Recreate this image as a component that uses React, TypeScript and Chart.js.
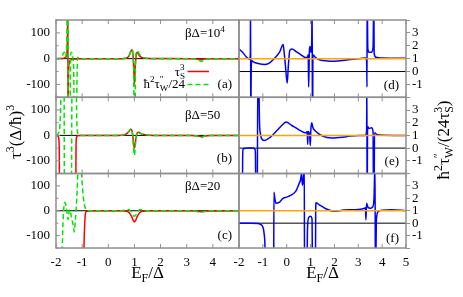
import React, { useEffect, useRef } from 'react';
import { Chart, registerables } from 'chart.js';

Chart.register(...registerables);

const W = 463;
const H = 297;
const SERIF = '"Liberation Serif", "Times New Roman", Times, serif';
const GRAY = '#8f8f8f';
const RED = '#ff0000';
const GREEN = '#00e600';
const BLUE = '#0000ff';
const ORANGE = '#ffa500';

// ---------- data ----------
const X_TICKS = [-2, -1, 0, 1, 2, 3, 4, 5];
const LEFT_Y_LABELS = [-100, 0, 100];
const RIGHT_Y_LABELS = [-1, 0, 1, 2, 3];
const LINE_X = [-2, 5];
const ZERO_Y = [0, 0];
const ONE_Y = [1, 1];

// panel (a) betaDelta = 1e4
const xA_S = [-2, -1.75, -1.65, -1.6, -1.575, -1.56, -1.548, -1.54, -1.525, -1.5, -1.45, -1.35, -1.1, 0.5, 0.7, 0.8, 0.86, 0.9, 0.94, 0.97, 1.0, 1.03, 1.07, 1.11, 1.18, 1.3, 1.6, 3.2, 3.45, 3.55, 3.65, 3.9, 5];
const yA_S = [0, 1, 4, 10, 35, 120, 400, -400, -80, -20, -6, -2, 0, 0, 3, 12, 28, 35, 20, -30, -100, -30, 15, 25, 12, 4, 1, 0, -2, -3, -1, 0, 0];
const xA_W = [-2, -1.8, -1.72, -1.68, -1.64, -1.6, -1.575, -1.56, -1.545, -1.53, -1.47, -1.44, -1.4, -1.36, -1.32, -1.3, -1.24, -1.2, -1.17, -1.1, 0.5, 0.7, 0.8, 0.86, 0.9, 0.94, 0.97, 1.0, 1.02, 1.04, 1.08, 1.12, 1.2, 1.35, 1.7, 3.2, 3.4, 3.5, 3.58, 3.7, 3.9, 5];
const yA_W = [0, 2, 20, 25, 8, 40, 150, 400, 400, -400, -400, 20, 25, 5, -60, -400, -400, -100, 5, 0, 0, 3, 12, 28, 35, 20, -60, -400, -400, -20, 25, 30, 15, 4, 0, 0, -3, -8, -10, -4, 0, 0];

// panel (b) betaDelta = 50
const xB_S = [-2, -1.92, -1.89, -1.875, -1.86, -1.25, -1.235, -1.22, -1.18, -1.1, 0.4, 0.65, 0.78, 0.86, 0.92, 0.96, 1.0, 1.04, 1.09, 1.15, 1.25, 1.4, 1.7, 3.2, 3.45, 3.55, 3.65, 3.9, 5];
const yB_S = [0, -3, -15, -60, -400, -400, -60, -10, -2, 0, 0, 4, 14, 24, 12, -25, -50, -25, 6, 12, 7, 3, 0, 0, -3, -5, -3, 0, 0];
const xB_W = [-2, -1.9, -1.84, -1.8, -1.77, -1.7, -1.67, -1.64, -1.42, -1.39, -1.36, -1.25, -1.21, -1.18, -1.14, -1.05, 0.4, 0.65, 0.78, 0.86, 0.92, 0.96, 1.0, 1.04, 1.09, 1.15, 1.25, 1.4, 1.7, 3.2, 3.45, 3.55, 3.65, 3.9, 5];
const yB_W = [0, 10, 60, 200, 400, 400, -400, -400, -400, 200, 400, 400, 80, 15, 3, 0, 0, 4, 14, 25, 10, -40, -78, -35, 5, 14, 8, 3, 0, 0, -4, -9, -4, 0, 0];

// panel (c) betaDelta = 20
const xC_S = [-2, -0.96, -0.93, -0.9, -0.87, -0.83, -0.7, 0.5, 0.7, 0.8, 0.9, 0.96, 1.0, 1.04, 1.1, 1.2, 1.3, 1.5, 3.2, 3.45, 3.55, 3.7, 5];
const yC_S = [-400, -400, -150, -50, -10, -2, 0, 0, -2, -8, -25, -40, -45, -40, -25, -8, -2, 0, 0, -3, -4, -1, 0];
const xC_W = [-2, -1.8, -1.76, -1.72, -1.66, -1.6, -1.54, -1.49, -1.44, -1.39, -1.34, -1.3, -1.26, -1.2, -1.15, -1.1, -1.05, -1.0, -0.95, -0.9, -0.85, -0.78, -0.6, 0.5, 0.65, 0.75, 0.85, 0.93, 1.0, 1.07, 1.15, 1.22, 1.35, 1.6, 3.2, 3.4, 3.55, 3.7, 3.85, 5];
const yC_W = [-400, -400, -150, -20, 34, 10, -35, 5, -10, -35, -60, -85, -40, 60, 180, 220, 180, 110, 50, 18, 5, 0, 0, 0, 2, 5, 0, -15, -22, -15, 0, 5, 2, 0, 0, -2, -5, -3, 0, 0];

// panel (d) ratio, betaDelta = 1e4
const xD = [-2, -1.85, -1.7, -1.6, -1.55, -1.525, -1.515, -1.505, -1.495, -1.47, -1.4, -1.2, -0.9, -0.7, -0.5, -0.3, -0.15, -0.12, -0.06, 0.02, 0.07, 0.13, 0.22, 0.4, 0.6, 0.8, 0.87, 0.9, 0.92, 0.95, 0.98, 1.02, 1.05, 1.065, 1.08, 1.1, 1.2, 1.4, 1.7, 2.0, 2.5, 3.0, 3.3, 3.35, 3.365, 3.372, 3.4, 3.45, 3.55, 3.62, 3.65, 3.665, 3.75, 4.0, 5];
const yD = [1.75, 1.5, 1.15, 1.0, 0.95, 1.4, 6, -6, -1.5, 0.85, 0.75, 0.62, 0.55, 0.7, 1.05, 1.5, 2.1, 1.7, 0.6, -0.9, 0.5, 1.65, 1.75, 1.55, 1.3, 1.08, 1.1, 1.3, -1.2, 1.6, 1.95, 1.5, 2.5, 6, -6, 1.3, 1.1, 0.9, 0.82, 0.8, 0.9, 1.0, 1.05, 0.8, -1.2, 6, 1.8, 1.5, 1.5, 1.9, 6, 1.4, 1.1, 1.05, 1.03];

// panel (e) ratio, betaDelta = 50
const xE = [-2, -1.87, -1.845, -1.82, -1.6, -1.4, -1.33, -1.31, -1.29, -1.24, -1.21, -1.18, -1.14, -1.1, -1.05, -0.95, -0.7, -0.4, -0.2, -0.02, 0.2, 0.5, 0.7, 0.8, 0.86, 0.88, 0.9, 0.96, 0.99, 1.01, 1.05, 1.1, 1.2, 1.5, 1.9, 2.5, 3.0, 3.3, 3.35, 3.36, 3.37, 3.39, 3.45, 3.55, 3.62, 3.64, 3.66, 3.68, 3.8, 4.5, 5];
const yE = [-6, -6, -0.4, -0.05, 0, 0, -0.1, -0.5, -6, -6, 6, 6, 2, 1.1, 0.75, 0.6, 0.85, 1.4, 1.8, 2.05, 1.8, 1.45, 1.25, 1.2, 1.3, 0.3, 1.3, 1.0, 0.2, 1.4, 2.0, 1.6, 1.35, 0.95, 0.8, 0.9, 1.0, 1.0, 1.4, 6, -6, 1.7, 1.55, 1.6, 1.3, -6, -6, 1.2, 1.05, 1.0, 1.0];

// panel (f) ratio, betaDelta = 20
const xF = [-2, -1.5, -1.2, -1.1, -1.0, -0.95, -0.91, -0.88, -0.55, -0.535, -0.52, -0.45, -0.3, -0.17, 0.0, 0.18, 0.39, 0.5, 0.58, 0.62, 0.66, 0.7, 0.735, 0.75, 0.84, 0.87, 0.92, 1.0, 1.06, 1.09, 1.2, 1.215, 1.23, 1.35, 1.6, 2.0, 2.4, 2.8, 3.1, 3.26, 3.3, 3.32, 3.35, 3.4, 3.5, 3.6, 3.66, 3.7, 3.72, 3.76, 3.84, 4.0, 4.4, 5];
const yF = [0, 0, -0.02, -0.1, -0.3, -0.8, -2, -6, -6, 2.5, 2.3, 1.6, 1.7, 1.97, 2.1, 2.25, 2.6, 3.1, 3.5, 3.95, 3.05, 3.6, 5, -6, -6, -0.5, 0.45, 0.55, 0.35, -6, -6, 1.0, 1.65, 1.5, 1.2, 0.95, 1.06, 1.08, 1.12, 1.2, 1.25, 0.27, 1.6, 1.3, 1.2, 1.3, 2.0, 5, -6, 0.3, 0.95, 1.05, 1.08, 1.0];

// ---------- layout ----------
const COLS: [number, number][] = [[56, 239], [239, 406]];
const ROWS: [number, number][] = [[20, 97.3], [97.3, 173.5], [173.5, 248]];

type Seg = { t: string; sup?: string; sub?: string };

function drawRich(ctx: CanvasRenderingContext2D, segs: Seg[], x: number, y: number, size: number, align: 'left' | 'right' | 'center') {
  const small = size * 0.7;
  let total = 0;
  const parts = segs.map((s) => {
    ctx.font = `${size}px ${SERIF}`;
    const wb = ctx.measureText(s.t).width;
    ctx.font = `${small}px ${SERIF}`;
    const ws = Math.max(s.sup ? ctx.measureText(s.sup).width : 0, s.sub ? ctx.measureText(s.sub).width : 0);
    total += wb + ws;
    return { wb, ws };
  });
  let cx = align === 'left' ? x : align === 'right' ? x - total : x - total / 2;
  ctx.textAlign = 'left';
  ctx.textBaseline = 'alphabetic';
  ctx.fillStyle = '#000';
  segs.forEach((s, i) => {
    ctx.font = `${size}px ${SERIF}`;
    ctx.fillText(s.t, cx, y);
    cx += parts[i].wb;
    ctx.font = `${small}px ${SERIF}`;
    if (s.sup) ctx.fillText(s.sup, cx, y - size * 0.42);
    if (s.sub) ctx.fillText(s.sub, cx, y + size * 0.25);
    cx += parts[i].ws;
  });
}

type LineDef = { xs: number[]; ys: number[]; color: string; width: number; dash?: number[]; order: number };
type Panel = {
  col: 0 | 1;
  row: 0 | 1 | 2;
  lines: LineDef[];
  tag: string;
  tagY: number;
  beta?: Seg[];
  betaY?: number;
  legend?: boolean;
  global?: boolean;
};

const leftLines = (xs: number[], ys: number[], xw: number[], yw: number[]): LineDef[] => [
  { xs: LINE_X, ys: ZERO_Y, color: '#000', width: 1, order: 3 },
  { xs, ys, color: RED, width: 1.5, order: 2 },
  { xs: xw, ys: yw, color: GREEN, width: 1.5, dash: [5, 3], order: 1 },
];
const rightLines = (xs: number[], ys: number[]): LineDef[] => [
  { xs: LINE_X, ys: ZERO_Y, color: '#000', width: 1, order: 3 },
  { xs, ys, color: BLUE, width: 1.5, order: 2 },
  { xs: LINE_X, ys: ONE_Y, color: ORANGE, width: 1.5, order: 1 },
];

const PANELS: Panel[] = [
  { col: 0, row: 0, lines: leftLines(xA_S, yA_S, xA_W, yA_W), tag: '(a)', tagY: 87.5, beta: [{ t: 'βΔ=10', sup: '4' }], betaY: 37, legend: true },
  { col: 0, row: 1, lines: leftLines(xB_S, yB_S, xB_W, yB_W), tag: '(b)', tagY: 161.5, beta: [{ t: 'βΔ=50' }], betaY: 118.5 },
  { col: 0, row: 2, lines: leftLines(xC_S, yC_S, xC_W, yC_W), tag: '(c)', tagY: 238.5, beta: [{ t: 'βΔ=20' }], betaY: 190 },
  { col: 1, row: 0, lines: rightLines(xD, yD), tag: '(d)', tagY: 89 },
  { col: 1, row: 1, lines: rightLines(xE, yE), tag: '(e)', tagY: 164.5 },
  { col: 1, row: 2, lines: rightLines(xF, yF), tag: '(f)', tagY: 241.5, global: true },
];

function line(ctx: CanvasRenderingContext2D, x1: number, y1: number, x2: number, y2: number) {
  ctx.beginPath();
  ctx.moveTo(x1, y1);
  ctx.lineTo(x2, y2);
  ctx.stroke();
}

function panelPlugin(p: Panel) {
  return {
    id: `panel${p.col}${p.row}`,
    afterDraw(chart: any) {
      const { ctx, chartArea: a, scales } = chart;
      const isLeft = p.col === 0;
      ctx.save();
      ctx.strokeStyle = GRAY;
      ctx.lineWidth = 1;
      const xs = scales.x;
      xs.ticks.forEach((t: any) => {
        const px = xs.getPixelForValue(t.value);
        line(ctx, px, a.top, px, a.top + 4);
        line(ctx, px, a.bottom, px, a.bottom - 4);
      });
      if (isLeft) {
        const ys = scales.y;
        ys.ticks.forEach((t: any) => {
          const py = ys.getPixelForValue(t.value);
          const len = LEFT_Y_LABELS.includes(t.value) ? 4 : 2.5;
          line(ctx, a.left, py, a.left + len, py);
        });
      }
      ctx.lineWidth = 1.5;
      ctx.strokeRect(a.left, a.top, a.right - a.left, a.bottom - a.top);

      const tagRight = isLeft ? 232 : 399;
      drawRich(ctx, [{ t: p.tag }], tagRight, p.tagY, 13, 'right');
      if (p.beta && p.betaY) drawRich(ctx, p.beta, 185, p.betaY, 13, 'left');
      if (p.legend) {
        drawRich(ctx, [{ t: 'τ', sup: '3', sub: 'S' }], 185, 75.5, 13, 'right');
        drawRich(ctx, [{ t: 'ħ', sup: '2' }, { t: 'τ', sup: '″', sub: 'W' }, { t: '/24' }], 185, 87.5, 13, 'right');
        ctx.lineWidth = 1.5;
        ctx.strokeStyle = RED;
        line(ctx, 187.5, 71.5, 209, 71.5);
        ctx.strokeStyle = GREEN;
        ctx.setLineDash([5, 3]);
        line(ctx, 187.5, 84.5, 209, 84.5);
        ctx.setLineDash([]);
      }
      if (p.global) {
        drawRich(ctx, [{ t: 'E', sub: 'F' }, { t: '/Δ' }], 147.5, 278, 17, 'center');
        drawRich(ctx, [{ t: 'E', sub: 'F' }, { t: '/Δ' }], 322.5, 278, 17, 'center');
        ctx.save();
        ctx.translate(15, 132);
        ctx.rotate(-Math.PI / 2);
        drawRich(ctx, [{ t: 'τ', sup: '3' }, { t: '(Δ/ħ)', sup: '3' }], 0, 6, 17, 'center');
        ctx.restore();
        ctx.save();
        ctx.translate(443, 140);
        ctx.rotate(-Math.PI / 2);
        drawRich(ctx, [{ t: 'ħ', sup: '2' }, { t: 'τ', sup: '″', sub: 'W' }, { t: '/(24τ', sup: '3', sub: 'S' }, { t: ')' }], 0, 6, 17, 'center');
        ctx.restore();
      }
      ctx.restore();
    },
  };
}

function makeConfig(p: Panel): any {
  const col = COLS[p.col];
  const row = ROWS[p.row];
  const isLeft = p.col === 0;
  const isBottom = p.row === 2;
  const tickFont = { family: SERIF, size: 13 };
  const bottomSpace = H - row[1];
  const leftSpace = col[0];
  const rightSpace = W - col[1];
  return {
    type: 'line',
    data: {
      datasets: p.lines.map((l) => ({
        data: l.xs.map((x, i) => ({ x, y: l.ys[i] })),
        borderColor: l.color,
        borderWidth: l.width,
        borderDash: l.dash ?? [],
        pointRadius: 0,
        cubicInterpolationMode: 'monotone',
        fill: false,
        order: l.order,
      })),
    },
    options: {
      animation: false,
      responsive: false,
      devicePixelRatio: 1,
      events: [],
      layout: {
        padding: {
          left: isLeft ? 0 : leftSpace,
          right: isLeft ? rightSpace : 0,
          top: row[0],
          bottom: 0,
        },
      },
      plugins: { legend: { display: false }, tooltip: { enabled: false }, title: { display: false } },
      scales: {
        x: {
          type: 'linear',
          position: 'bottom',
          min: -2,
          max: 5,
          afterBuildTicks: (axis: any) => {
            axis.ticks = X_TICKS.map((v) => ({ value: v }));
          },
          ticks: {
            display: isBottom,
            autoSkip: false,
            maxRotation: 0,
            padding: 7,
            color: '#000',
            font: tickFont,
            callback: (v: number) => (isLeft && v === 5 ? '' : String(v)),
          },
          grid: { display: false, drawTicks: false },
          border: { display: false },
          afterFit: (axis: any) => {
            axis.height = bottomSpace;
          },
        },
        y: isLeft
          ? {
              type: 'linear',
              position: 'left',
              min: -150,
              max: 150,
              ticks: {
                stepSize: 50,
                autoSkip: false,
                padding: 6,
                color: '#000',
                font: tickFont,
                callback: (v: number) => (LEFT_Y_LABELS.includes(v) ? String(v) : ''),
              },
              grid: { display: false, drawTicks: false },
              border: { display: false },
              afterFit: (axis: any) => {
                axis.width = leftSpace;
              },
            }
          : {
              type: 'linear',
              position: 'right',
              min: -2,
              max: 4,
              ticks: {
                stepSize: 1,
                autoSkip: false,
                padding: 2,
                color: '#000',
                font: tickFont,
                callback: (v: number) => (RIGHT_Y_LABELS.includes(v) ? String(v) : ''),
              },
              grid: { display: true, drawOnChartArea: false, drawTicks: true, tickLength: 4, color: GRAY, lineWidth: 1 },
              border: { display: false },
              afterFit: (axis: any) => {
                axis.width = rightSpace;
              },
            },
      },
    },
    plugins: [panelPlugin(p)],
  };
}

function PanelCanvas({ p }: { p: Panel }) {
  const ref = useRef<HTMLCanvasElement>(null);
  useEffect(() => {
    const chart = new Chart(ref.current as HTMLCanvasElement, makeConfig(p));
    return () => chart.destroy();
  }, [p]);
  return <canvas ref={ref} width={W} height={H} style={{ position: 'absolute', left: 0, top: 0, width: W, height: H }} />;
}

export default function App() {
  return (
    <div style={{ position: 'fixed', left: 0, top: 0, width: W, height: H, background: '#fff', overflow: 'hidden' }}>
      {PANELS.map((p, i) => (
        <PanelCanvas key={i} p={p} />
      ))}
    </div>
  );
}
